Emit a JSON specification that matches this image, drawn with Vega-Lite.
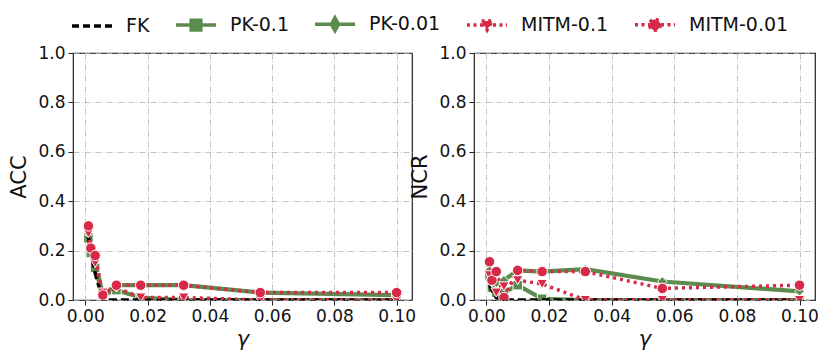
{
  "$schema": "https://vega.github.io/schema/vega-lite/v6.json",
  "padding": {"left": 8, "right": 9, "top": 2, "bottom": 8},
  "background": "white",
  "config": {
    "font": "DejaVu Sans",
    "view": {"stroke": "#222222", "strokeWidth": 1.2},
    "axis": {
      "domain": false, "grid": true, "gridColor": "#b5b5b5", "gridDash": [6, 2, 1, 2], "gridWidth": 0.8,
      "tickColor": "#222222", "tickSize": 5, "tickWidth": 1,
      "labelFontSize": 17, "labelColor": "#111111", "labelFont": "DejaVu Sans", "labelPadding": 3,
      "titleFontSize": 21, "titleFontWeight": "normal", "titleColor": "#111111", "titleFont": "DejaVu Sans"
    }
  },
  "datasets": {
    "d": [
      {"m": "ACC", "s": "FK", "g": 0.001, "v": 0.26},
      {"m": "ACC", "s": "FK", "g": 0.00178, "v": 0.19},
      {"m": "ACC", "s": "FK", "g": 0.00316, "v": 0.11},
      {"m": "ACC", "s": "FK", "g": 0.00562, "v": 0.0},
      {"m": "ACC", "s": "FK", "g": 0.01, "v": 0.0},
      {"m": "ACC", "s": "FK", "g": 0.0178, "v": 0.0},
      {"m": "ACC", "s": "FK", "g": 0.0316, "v": 0.0},
      {"m": "ACC", "s": "FK", "g": 0.0562, "v": 0.0},
      {"m": "ACC", "s": "FK", "g": 0.1, "v": 0.0},
      {"m": "ACC", "s": "PK-0.1", "g": 0.001, "v": 0.25},
      {"m": "ACC", "s": "PK-0.1", "g": 0.00178, "v": 0.19},
      {"m": "ACC", "s": "PK-0.1", "g": 0.00316, "v": 0.13},
      {"m": "ACC", "s": "PK-0.1", "g": 0.00562, "v": 0.02},
      {"m": "ACC", "s": "PK-0.1", "g": 0.01, "v": 0.04},
      {"m": "ACC", "s": "PK-0.1", "g": 0.0178, "v": 0.01},
      {"m": "ACC", "s": "PK-0.1", "g": 0.0316, "v": 0.0},
      {"m": "ACC", "s": "PK-0.1", "g": 0.0562, "v": 0.0},
      {"m": "ACC", "s": "PK-0.1", "g": 0.1, "v": 0.0},
      {"m": "ACC", "s": "PK-0.01", "g": 0.001, "v": 0.27},
      {"m": "ACC", "s": "PK-0.01", "g": 0.00178, "v": 0.21},
      {"m": "ACC", "s": "PK-0.01", "g": 0.00316, "v": 0.16},
      {"m": "ACC", "s": "PK-0.01", "g": 0.00562, "v": 0.02},
      {"m": "ACC", "s": "PK-0.01", "g": 0.01, "v": 0.06},
      {"m": "ACC", "s": "PK-0.01", "g": 0.0178, "v": 0.06},
      {"m": "ACC", "s": "PK-0.01", "g": 0.0316, "v": 0.06},
      {"m": "ACC", "s": "PK-0.01", "g": 0.0562, "v": 0.03},
      {"m": "ACC", "s": "PK-0.01", "g": 0.1, "v": 0.02},
      {"m": "ACC", "s": "MITM-0.1", "g": 0.001, "v": 0.27},
      {"m": "ACC", "s": "MITM-0.1", "g": 0.00178, "v": 0.2},
      {"m": "ACC", "s": "MITM-0.1", "g": 0.00316, "v": 0.15},
      {"m": "ACC", "s": "MITM-0.1", "g": 0.00562, "v": 0.03},
      {"m": "ACC", "s": "MITM-0.1", "g": 0.01, "v": 0.05},
      {"m": "ACC", "s": "MITM-0.1", "g": 0.0178, "v": 0.01},
      {"m": "ACC", "s": "MITM-0.1", "g": 0.0316, "v": 0.01},
      {"m": "ACC", "s": "MITM-0.1", "g": 0.0562, "v": 0.0},
      {"m": "ACC", "s": "MITM-0.1", "g": 0.1, "v": 0.0},
      {"m": "ACC", "s": "MITM-0.01", "g": 0.001, "v": 0.3},
      {"m": "ACC", "s": "MITM-0.01", "g": 0.00178, "v": 0.21},
      {"m": "ACC", "s": "MITM-0.01", "g": 0.00316, "v": 0.18},
      {"m": "ACC", "s": "MITM-0.01", "g": 0.00562, "v": 0.02},
      {"m": "ACC", "s": "MITM-0.01", "g": 0.01, "v": 0.06},
      {"m": "ACC", "s": "MITM-0.01", "g": 0.0178, "v": 0.06},
      {"m": "ACC", "s": "MITM-0.01", "g": 0.0316, "v": 0.06},
      {"m": "ACC", "s": "MITM-0.01", "g": 0.0562, "v": 0.03},
      {"m": "ACC", "s": "MITM-0.01", "g": 0.1, "v": 0.03},
      {"m": "NCR", "s": "FK", "g": 0.001, "v": 0.06},
      {"m": "NCR", "s": "FK", "g": 0.00178, "v": 0.04},
      {"m": "NCR", "s": "FK", "g": 0.00316, "v": 0.01},
      {"m": "NCR", "s": "FK", "g": 0.00562, "v": 0.0},
      {"m": "NCR", "s": "FK", "g": 0.01, "v": 0.0},
      {"m": "NCR", "s": "FK", "g": 0.0178, "v": 0.0},
      {"m": "NCR", "s": "FK", "g": 0.0316, "v": 0.0},
      {"m": "NCR", "s": "FK", "g": 0.0562, "v": 0.0},
      {"m": "NCR", "s": "FK", "g": 0.1, "v": 0.0},
      {"m": "NCR", "s": "PK-0.1", "g": 0.001, "v": 0.1},
      {"m": "NCR", "s": "PK-0.1", "g": 0.00178, "v": 0.05},
      {"m": "NCR", "s": "PK-0.1", "g": 0.00316, "v": 0.03},
      {"m": "NCR", "s": "PK-0.1", "g": 0.00562, "v": 0.03},
      {"m": "NCR", "s": "PK-0.1", "g": 0.01, "v": 0.06},
      {"m": "NCR", "s": "PK-0.1", "g": 0.0178, "v": 0.005},
      {"m": "NCR", "s": "PK-0.1", "g": 0.0316, "v": 0.0},
      {"m": "NCR", "s": "PK-0.1", "g": 0.0562, "v": 0.0},
      {"m": "NCR", "s": "PK-0.1", "g": 0.1, "v": 0.0},
      {"m": "NCR", "s": "PK-0.01", "g": 0.001, "v": 0.12},
      {"m": "NCR", "s": "PK-0.01", "g": 0.00178, "v": 0.09},
      {"m": "NCR", "s": "PK-0.01", "g": 0.00316, "v": 0.07},
      {"m": "NCR", "s": "PK-0.01", "g": 0.00562, "v": 0.08},
      {"m": "NCR", "s": "PK-0.01", "g": 0.01, "v": 0.12},
      {"m": "NCR", "s": "PK-0.01", "g": 0.0178, "v": 0.115},
      {"m": "NCR", "s": "PK-0.01", "g": 0.0316, "v": 0.125},
      {"m": "NCR", "s": "PK-0.01", "g": 0.0562, "v": 0.075},
      {"m": "NCR", "s": "PK-0.01", "g": 0.1, "v": 0.035},
      {"m": "NCR", "s": "MITM-0.1", "g": 0.001, "v": 0.1},
      {"m": "NCR", "s": "MITM-0.1", "g": 0.00178, "v": 0.07},
      {"m": "NCR", "s": "MITM-0.1", "g": 0.00316, "v": 0.03},
      {"m": "NCR", "s": "MITM-0.1", "g": 0.00562, "v": 0.055},
      {"m": "NCR", "s": "MITM-0.1", "g": 0.01, "v": 0.08},
      {"m": "NCR", "s": "MITM-0.1", "g": 0.0178, "v": 0.065},
      {"m": "NCR", "s": "MITM-0.1", "g": 0.0316, "v": 0.0},
      {"m": "NCR", "s": "MITM-0.1", "g": 0.0562, "v": 0.0},
      {"m": "NCR", "s": "MITM-0.1", "g": 0.1, "v": 0.0},
      {"m": "NCR", "s": "MITM-0.01", "g": 0.001, "v": 0.155},
      {"m": "NCR", "s": "MITM-0.01", "g": 0.00178, "v": 0.08},
      {"m": "NCR", "s": "MITM-0.01", "g": 0.00316, "v": 0.115},
      {"m": "NCR", "s": "MITM-0.01", "g": 0.00562, "v": 0.01},
      {"m": "NCR", "s": "MITM-0.01", "g": 0.01, "v": 0.12},
      {"m": "NCR", "s": "MITM-0.01", "g": 0.0178, "v": 0.115},
      {"m": "NCR", "s": "MITM-0.01", "g": 0.0316, "v": 0.115},
      {"m": "NCR", "s": "MITM-0.01", "g": 0.0562, "v": 0.047},
      {"m": "NCR", "s": "MITM-0.01", "g": 0.1, "v": 0.06}
    ]
  },
  "spacing": -8,
  "resolve": {"scale": {"color": "shared", "shape": "shared"}, "legend": {"color": "shared", "shape": "shared"}},
  "hconcat": [
    {
      "width": 339, "height": 247,
      "data": {"name": "d"},
      "transform": [{"filter": "datum.m === 'ACC'"}],
      "encoding": {
        "x": {"field": "g", "type": "quantitative", "scale": {"domain": [-0.00395, 0.10495], "nice": false, "zero": false},
              "axis": {"values": [0, 0.02, 0.04, 0.06, 0.08, 0.1], "format": ".2f", "title": "γ", "titleFontStyle": "italic", "titlePadding": 4}},
        "y": {"field": "v", "type": "quantitative", "scale": {"domain": [0, 1], "nice": false},
              "axis": {"values": [0, 0.2, 0.4, 0.6, 0.8, 1.0], "format": ".1f", "title": "ACC", "titlePadding": 8}}
      },
      "layer": [
        {"transform": [{"filter": "datum.s === 'PK-0.1' || datum.s === 'PK-0.01'"}],
         "mark": {"type": "line", "strokeWidth": 4.2, "clip": true},
         "encoding": {"color": {"field": "s", "type": "nominal",
            "scale": {"domain": ["FK", "PK-0.1", "PK-0.01", "MITM-0.1", "MITM-0.01"], "range": ["#000000", "#5b8c4e", "#5b8c4e", "#d62a48", "#d62a48"]},
            "legend": {
              "orient": "none", "legendX": -3, "legendY": -51, "direction": "horizontal", "columns": 5, "title": null,
              "labelFontSize": 19, "labelFont": "DejaVu Sans", "labelColor": "#111111", "symbolSize": 1600, "symbolStrokeWidth": 3.5,
              "labelOffset": 12, "columnPadding": 19,
              "encode": {"symbols": {"update": {
                "shape": {"signal": "datum.value === 'FK' ? 'M-1,0H1' : datum.value === 'PK-0.1' ? 'M-1,0H1M-0.24,-0.24H0.24V0.24H-0.24Z' : datum.value === 'PK-0.01' ? 'M-1,0H1M0,-0.32L0.18,0L0,0.32L-0.18,0Z' : datum.value === 'MITM-0.1' ? 'M-1,0H1M-0.27,-0.2L0.27,-0.2L0,0.25Z' : 'M-1,0H1M0.27,0A0.27,0.27 0 1,1 -0.27,0A0.27,0.27 0 1,1 0.27,0Z'"},
                "fill": {"signal": "datum.value === 'FK' ? 'transparent' : (datum.value === 'PK-0.1' || datum.value === 'PK-0.01') ? '#5b8c4e' : '#d62a48'"},
                "stroke": {"signal": "datum.value === 'FK' ? '#000000' : (datum.value === 'PK-0.1' || datum.value === 'PK-0.01') ? '#5b8c4e' : '#d62a48'"},
                "strokeDash": {"signal": "datum.value === 'FK' ? [7, 4] : (datum.value === 'MITM-0.1' || datum.value === 'MITM-0.01') ? [3, 3.5] : [1, 0]"},
                "strokeWidth": {"value": 3.5},
                "opacity": {"value": 1}
              }}}
            }}}},
        {"transform": [{"filter": "datum.s === 'PK-0.1' || datum.s === 'PK-0.01'"}],
         "mark": {"type": "point", "filled": true, "size": 90, "stroke": "white", "strokeWidth": 1, "opacity": 1, "clip": true},
         "encoding": {"color": {"field": "s", "type": "nominal"},
                      "shape": {"field": "s", "type": "nominal", "legend": null,
                                "scale": {"domain": ["PK-0.1", "PK-0.01", "MITM-0.1", "MITM-0.01"], "range": ["square", "diamond", "triangle-down", "circle"]}}}},
        {"transform": [{"filter": "datum.s === 'FK'"}],
         "mark": {"type": "line", "strokeWidth": 3.5, "strokeDash": [8, 4], "clip": true},
         "encoding": {"color": {"field": "s", "type": "nominal"}}},
        {"transform": [{"filter": "datum.s === 'MITM-0.1' || datum.s === 'MITM-0.01'"}],
         "mark": {"type": "line", "strokeWidth": 3.5, "strokeDash": [3, 4], "clip": true},
         "encoding": {"color": {"field": "s", "type": "nominal"}}},
        {"transform": [{"filter": "datum.s === 'MITM-0.1' || datum.s === 'MITM-0.01'"}],
         "mark": {"type": "point", "filled": true, "size": 110, "stroke": "white", "strokeWidth": 1, "opacity": 1, "clip": true},
         "encoding": {"color": {"field": "s", "type": "nominal"},
                      "shape": {"field": "s", "type": "nominal", "legend": null}}}
      ]
    },
    {
      "width": 341, "height": 247,
      "data": {"name": "d"},
      "transform": [{"filter": "datum.m === 'NCR'"}],
      "encoding": {
        "x": {"field": "g", "type": "quantitative", "scale": {"domain": [-0.00395, 0.10495], "nice": false, "zero": false},
              "axis": {"values": [0, 0.02, 0.04, 0.06, 0.08, 0.1], "format": ".2f", "title": "γ", "titleFontStyle": "italic", "titlePadding": 4}},
        "y": {"field": "v", "type": "quantitative", "scale": {"domain": [0, 1], "nice": false},
              "axis": {"values": [0, 0.2, 0.4, 0.6, 0.8, 1.0], "format": ".1f", "title": "NCR", "titlePadding": 8}}
      },
      "layer": [
        {"transform": [{"filter": "datum.s === 'PK-0.1' || datum.s === 'PK-0.01'"}],
         "mark": {"type": "line", "strokeWidth": 4.2, "clip": true},
         "encoding": {"color": {"field": "s", "type": "nominal"}}},
        {"transform": [{"filter": "datum.s === 'PK-0.1' || datum.s === 'PK-0.01'"}],
         "mark": {"type": "point", "filled": true, "size": 90, "stroke": "white", "strokeWidth": 1, "opacity": 1, "clip": true},
         "encoding": {"color": {"field": "s", "type": "nominal"},
                      "shape": {"field": "s", "type": "nominal", "legend": null}}},
        {"transform": [{"filter": "datum.s === 'FK'"}],
         "mark": {"type": "line", "strokeWidth": 3.5, "strokeDash": [8, 4], "clip": true},
         "encoding": {"color": {"field": "s", "type": "nominal"}}},
        {"transform": [{"filter": "datum.s === 'MITM-0.1' || datum.s === 'MITM-0.01'"}],
         "mark": {"type": "line", "strokeWidth": 3.5, "strokeDash": [3, 4], "clip": true},
         "encoding": {"color": {"field": "s", "type": "nominal"}}},
        {"transform": [{"filter": "datum.s === 'MITM-0.1' || datum.s === 'MITM-0.01'"}],
         "mark": {"type": "point", "filled": true, "size": 110, "stroke": "white", "strokeWidth": 1, "opacity": 1, "clip": true},
         "encoding": {"color": {"field": "s", "type": "nominal"},
                      "shape": {"field": "s", "type": "nominal", "legend": null}}}
      ]
    }
  ]
}
